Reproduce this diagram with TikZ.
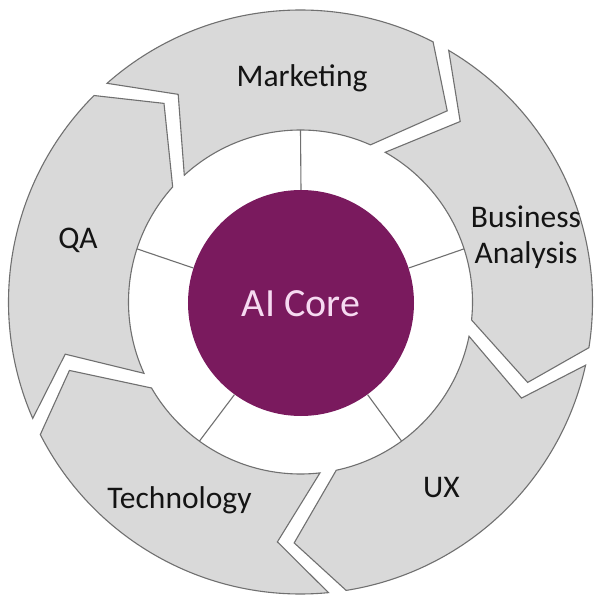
\documentclass[tikz,border=0pt]{standalone}
\usepackage{fontspec}
\setmainfont{Carlito}
\definecolor{segfill}{HTML}{D9D9D9}
\definecolor{segline}{HTML}{707070}
\definecolor{corepurple}{HTML}{7A1A5E}
\definecolor{coretext}{HTML}{F6DAF1}
\definecolor{labeltext}{HTML}{141414}
\begin{document}
\begin{tikzpicture}[x=1pt,y=1pt,
  seg/.style={fill=segfill,draw=segline,line width=1.1pt,line join=miter},
  spoke/.style={draw=segline,line width=1.1pt},
  lab/.style={font=\fontsize{31.5}{36}\selectfont,text=labeltext,inner sep=0pt,anchor=base},
  corelab/.style={font=\fontsize{40}{44}\selectfont,text=coretext,inner sep=0pt,anchor=base}]
\useasboundingbox[fill=white] (-300.5,-305) rectangle (299.5,302);
\def\Ro{292}
\def\Ri{172}
\def\Rm{241}
% arrow segments (clockwise flow)
\foreach \s in {132,60,-12,-84,-156}{
  \draw[seg] ({\s-0.5}:\Ro) arc[start angle=\s-0.5, end angle=\s-69, radius=\Ro]
    -- ({\s-79.5}:\Rm) -- ({\s-66}:\Ri)
    arc[start angle=\s-66, end angle=\s+0.5, radius=\Ri]
    -- ({\s-11.5}:\Rm) -- cycle;
}
% core
\node[circle,fill=corepurple,minimum size=226pt,inner sep=0pt] (core) at (0.5,-1) {};
\foreach \a in {90,162,234,306,18}{
  \draw[spoke] (core.\a) -- ({\a}:\Ri);
}
\node[corelab] (coretxt) at (0.5,-14.7) {AI Core};
% labels
\node[lab] (mkt) at (1.5,215) {Marketing};
\node[lab] (ba1) at (225.5,74.7) {Business};
\node[lab] (ba2) at (225.5,38.7) {Analysis};
\node[lab] (ux) at (141,-195.5) {UX};
\node[lab] (tech) at (-121,-206) {Technology};
\node[lab] (qa) at (-222.5,53) {QA};
\end{tikzpicture}
\end{document}
